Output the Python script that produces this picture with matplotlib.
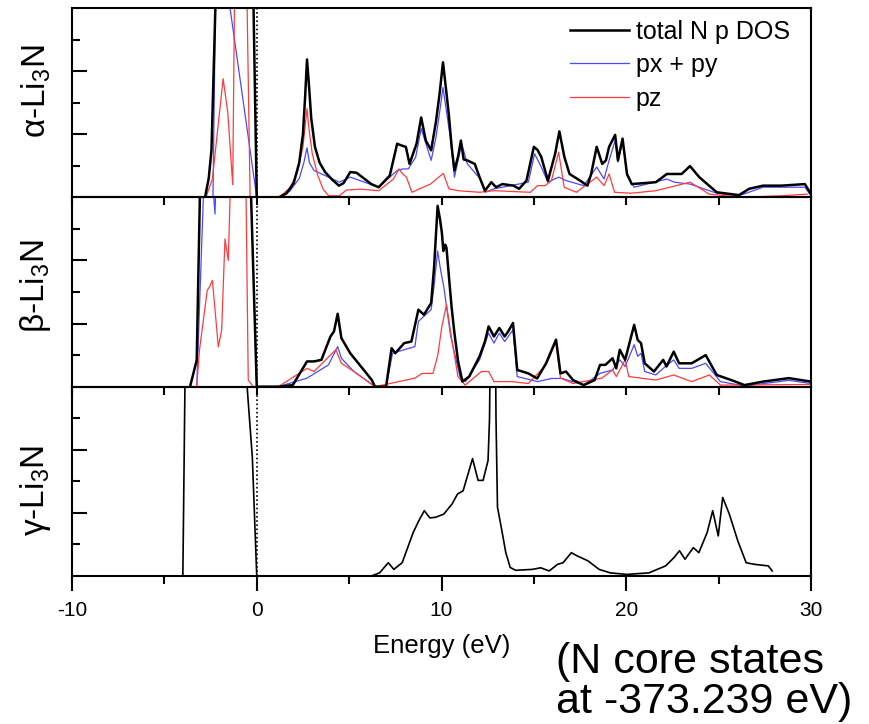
import matplotlib
matplotlib.use("Agg")
import matplotlib.pyplot as plt
from matplotlib.ticker import MultipleLocator, FixedLocator

plt.rcParams['font.family'] = ['Liberation Sans', 'DejaVu Sans']
plt.rcParams['mathtext.fontset'] = 'custom'
plt.rcParams['mathtext.rm'] = 'Liberation Sans'
plt.rcParams['mathtext.it'] = 'Liberation Sans'

# ---------------- data ----------------
panel_labels = ['α-Li$_3$N', 'β-Li$_3$N', 'γ-Li$_3$N']
legend_labels = ['total N p DOS', 'px + py', 'pz']
xticks = [-10, 0, 10, 20, 30]

# alpha-Li3N
a_tot_E = [-2.8, -2.6, -2.45, -2.1, -0.26, 0.0, 1.2, 1.6, 2.0, 2.3, 2.5, 2.62, 2.72,
           2.82, 2.95, 3.15, 3.4, 3.7, 4.1, 4.45, 4.7, 5.06, 5.4, 5.8, 6.2, 6.6,
           7.2, 7.6, 7.8, 8.07, 8.27, 8.65, 8.9, 9.15, 9.44, 9.7, 9.9,
           10.08, 10.25, 10.4, 10.55, 10.7, 10.9, 11.05, 11.2, 11.4, 11.8, 12.06, 12.35,
           12.7, 12.95, 13.3, 13.9, 14.2, 14.6, 15.0, 15.2, 15.4, 15.76, 16.15, 16.38,
           16.65, 16.93, 17.5, 17.9, 18.1, 18.4, 18.7, 18.9, 19.07, 19.4, 19.55, 19.8,
           20.04, 20.3, 21.6, 22.2, 22.6, 23.0, 23.45, 23.95, 24.9, 26.1, 26.65, 27.4,
           28.4, 29.67, 30.0]
a_tot_v = [0.0, 0.6, 1.5, 9.0, 9.0, 0.0, 0.0, 0.12, 0.45, 1.1, 2.0, 3.2, 4.37,
           3.6, 2.5, 1.6, 1.1, 0.8, 0.55, 0.37, 0.45, 0.8, 0.78, 0.6, 0.42, 0.32,
           0.69, 1.7, 1.65, 1.6, 1.06, 1.7, 2.53, 1.8, 1.49, 2.4, 3.3,
           4.28, 3.4, 2.6, 1.6, 0.85, 1.3, 1.8, 1.2, 1.17, 1.06, 0.64, 0.21,
           0.48, 0.32, 0.42, 0.37, 0.27, 0.53, 1.6, 1.5, 1.28, 0.53, 1.38, 2.09,
           1.28, 0.74, 0.53, 0.37, 0.74, 1.6, 1.06, 1.17, 1.6, 1.98, 1.17, 1.86,
           0.74, 0.42, 0.48, 0.74, 0.74, 0.74, 0.99, 0.64, 0.16, 0.07, 0.27, 0.37,
           0.37, 0.42, 0.1]
a_xy_E = [-2.37, -2.17, 0.0, 1.2, 1.8, 2.3, 2.55, 2.72, 2.85, 3.1, 3.7, 4.47, 5.06,
          6.6, 7.6, 7.9, 8.2, 8.6, 8.9, 9.44, 9.7, 9.9, 10.08, 10.3, 10.5, 10.7,
          11.09, 11.4, 12.1, 12.35, 12.85,
          14.7, 15.04, 15.4, 15.76, 16.34, 16.74, 17.7, 18.4, 18.8, 19.07, 19.4, 19.55,
          19.8, 20.04, 20.43, 22.2, 22.6, 23.45, 24.9, 26.1, 27.4, 29.67, 30.0]
a_xy_v = [0.0, 9.0, 0.0, 0.0, 0.2, 0.6, 1.1, 1.57, 1.1, 0.85, 0.69, 0.48, 0.64,
          0.32, 0.85, 0.9, 0.9, 1.27, 2.18, 1.17, 1.9, 2.7, 3.48, 2.6, 1.8, 0.64,
          1.7, 1.06, 0.58, 0.16, 0.27,
          0.48, 1.38, 0.96, 0.48, 0.64, 0.53, 0.37, 0.96, 0.58, 1.17, 1.8, 1.12,
          1.8, 0.69, 0.32, 0.58, 0.48, 0.42, 0.13, 0.05, 0.32, 0.32, 0.05]
a_z_E = [-2.75, -2.4, -1.82, -1.57, -1.3, -1.16, -0.6, -0.36, 1.2, 1.8, 2.2, 2.5,
         2.65, 2.72, 2.82, 3.0, 3.3, 3.6, 3.9, 4.47, 4.85, 5.6, 6.6, 7.4, 7.7, 7.9,
         8.1, 8.4, 9.4, 10.1, 10.4, 10.9, 12.06, 12.85, 14.8, 15.2, 15.6, 15.95,
         16.34, 16.64, 17.3, 17.9, 18.4, 18.8, 19.07, 19.37, 20.25, 21.6, 23.45,
         24.5, 26.3, 28.4, 29.8]
a_z_v = [0.0, 0.58, 3.76, 2.7, 0.4, 9.0, 9.0, 0.0, 0.0, 0.3, 0.8, 1.6,
         2.4, 2.81, 2.2, 1.4, 0.7, 0.25, 0.05, 0.05, 0.23, 0.26, 0.21, 0.58, 0.9, 0.74,
         0.64, 0.16, 0.42, 0.76, 0.27, 0.21, 0.16, 0.21, 0.16, 0.37, 0.37, 0.53,
         1.43, 0.32, 0.16, 0.42, 0.64, 0.37, 0.74, 0.16, 0.13, 0.21, 0.48,
         0.1, 0.0, 0.05, 0.1]

# beta-Li3N
b_tot_E = [-3.61, -3.25, -2.98, -0.46, 0.0, 1.17, 1.95, 2.72, 3.1, 3.5, 3.99, 4.18,
           4.38, 4.58, 5.06, 5.64, 6.23, 6.4, 7.0, 7.3, 7.5, 7.98, 8.37, 8.75, 9.05,
           9.44, 9.6, 9.79, 9.92, 10.02, 10.1, 10.2, 10.27, 10.4, 10.55, 10.7, 10.9,
           11.13, 11.5, 12.06, 12.35,
           12.55, 12.84, 13.13, 13.42, 13.61, 13.87, 14.1, 14.7, 15.18, 15.66, 16.2,
           16.44, 16.74, 17.12, 17.7, 18.29, 18.58, 18.87, 19.26, 19.46, 19.65, 19.94,
           20.43, 20.62, 20.8, 21.0, 21.5, 22.0, 22.18, 22.57, 22.86, 23.54, 24.3,
           24.9, 25.68, 26.4, 27.4, 28.8, 30.0]
b_tot_v = [0.0, 0.84, 9.0, 9.0, 0.0, 0.0, 0.05, 0.8, 0.8, 0.85, 1.59, 1.75,
           2.31, 1.54, 1.06, 0.64, 0.21, 0.0, 0.0, 1.22, 1.06, 1.38, 1.43, 2.44, 2.28,
           2.65, 3.8, 5.73, 5.3, 4.88, 4.3, 4.5, 4.4, 3.5, 2.5, 1.7, 0.8,
           0.16, 0.32, 0.96, 1.43,
           1.91, 1.59, 1.86, 1.59, 1.75, 2.02, 0.53, 0.42, 0.26, 0.74, 1.49,
           0.42, 0.48, 0.21, 0.05, 0.21, 0.69, 0.69, 0.9, 0.58, 1.17, 0.85,
           1.96, 1.48, 1.38, 0.74, 0.48, 0.85, 0.64, 1.11, 0.74, 0.74, 1.0,
           0.37, 0.21, 0.05, 0.16, 0.27, 0.16]
b_xy_E = [-3.25, -2.71, -2.26, -2.08, -0.46, 0.0, 1.17, 2.72, 3.88, 4.38, 4.58, 5.26,
          6.4, 7.0, 7.35, 7.98, 8.56, 8.75, 9.44, 9.6, 9.79, 9.95, 10.12, 10.5, 11.0, 11.3,
          12.06, 12.55, 12.84, 13.13, 13.42, 13.87, 14.1, 15.2, 15.96, 16.54, 17.7,
          18.58, 19.26, 19.65, 19.94, 20.43, 20.62, 20.8, 21.0, 21.6, 22.0, 22.57,
          22.86, 23.54, 24.3, 25.1, 26.4, 28.8, 30.0]
b_xy_v = [0.0, 9.0, 5.47, 9.0, 9.0, 0.0, 0.0, 0.27, 0.69, 1.27, 0.9, 0.48,
          0.0, 0.0, 1.06, 1.17, 1.27, 2.07, 2.44, 3.2, 4.3, 3.7, 3.18, 1.59, 0.32, 0.16,
          0.85, 1.7, 1.38, 1.7, 1.43, 1.8, 0.32, 0.16, 0.26, 0.26, 0.05,
          0.42, 0.53, 0.85, 0.64, 1.33, 0.96, 1.06, 0.48, 0.37, 0.58, 0.85,
          0.58, 0.58, 0.74, 0.16, 0.02, 0.2, 0.1]
b_z_E = [-3.25, -3.1, -2.68, -2.56, -2.4, -2.08, -1.9, -1.72, -1.54, -1.3, -0.64,
         -0.46, -0.19, 1.17, 2.72, 3.1, 4.28, 4.58, 5.26, 6.4, 7.2, 8.56, 8.95, 9.54,
         9.8, 10.02, 10.27, 10.5, 10.89, 11.28, 12.16, 12.55, 12.84, 13.8, 14.7, 15.66,
         16.2, 16.44, 17.12, 18.68, 19.26, 19.46, 19.94, 20.14, 21.6, 22.57, 23.54,
         24.5, 25.1, 30.0]
b_z_v = [0.0, 1.16, 3.05, 3.16, 3.37, 1.26, 1.79, 4.68, 4.0, 9.0, 9.0,
         0.21, 0.0, 0.0, 0.58, 0.48, 1.17, 0.74, 0.48, 0.0, 0.1, 0.27, 0.42, 0.42,
         1.0, 1.91, 2.6, 1.7, 0.32, 0.05, 0.48, 0.48, 0.16, 0.16, 0.1, 0.69,
         1.43, 0.27, 0.1, 0.27, 0.53, 0.32, 0.85, 0.32, 0.21, 0.37, 0.16,
         0.37, 0.05, 0.07]

# gamma-Li3N
g_tot_E = [-4.0, -3.83, -0.9, -0.24, 0.0, 6.2, 6.65, 7.12, 7.42, 7.87, 8.47, 8.77,
           9.07, 9.37, 9.67, 10.12, 10.57, 10.87, 11.17, 11.68, 11.98, 12.25, 12.52,
           12.6, 12.67, 12.9, 12.95, 13.03, 13.27, 13.48, 13.72, 14.02, 14.92, 15.37,
           15.83, 16.28, 16.58, 17.03, 17.33, 17.93, 18.53, 19.13, 20.03, 21.23, 22.13,
           22.58, 22.88, 23.18, 23.63, 23.93, 24.38, 24.68, 24.98, 25.22, 25.58, 26.04,
           26.49, 26.94, 27.69, 27.9]
g_tot_v = [0.0, 9.0, 9.0, 3.77, 0.0, 0.0, 0.1, 0.42, 0.21, 0.42, 1.38, 1.75,
           2.07, 1.84, 1.86, 1.96, 2.28, 2.6, 2.7, 3.72, 3.03, 3.03, 3.66,
           5.0, 9.0, 9.0, 5.0, 2.18, 1.43, 0.74, 0.27, 0.18, 0.21, 0.26,
           0.16, 0.37, 0.42, 0.74, 0.64, 0.48, 0.21, 0.1, 0.05, 0.1, 0.32,
           0.58, 0.8, 0.53, 0.9, 0.74, 1.38, 2.07, 1.27, 2.49, 1.96, 1.11,
           0.42, 0.37, 0.32, 0.16]

# ---------------- figure ----------------
fig = plt.figure(figsize=(8.69, 7.24), dpi=100)
gs = fig.add_gridspec(3, 1, left=72/869, right=811/869, top=1-8/724, bottom=1-576/724, hspace=0)
axes = [fig.add_subplot(gs[i]) for i in range(3)]

blue = '#4a4aff'
red = '#ff3b3b'

ax = axes[0]
h_xy, = ax.plot(a_xy_E, a_xy_v, color=blue, lw=0.9, zorder=2)
h_z, = ax.plot(a_z_E, a_z_v, color=red, lw=0.9, zorder=2)
h_tot, = ax.plot(a_tot_E, a_tot_v, color='black', lw=1.8, zorder=3)

ax = axes[1]
ax.plot(b_xy_E, b_xy_v, color=blue, lw=0.9, zorder=2)
ax.plot(b_z_E, b_z_v, color=red, lw=0.9, zorder=2)
ax.plot(b_tot_E, b_tot_v, color='black', lw=1.8, zorder=3)

ax = axes[2]
ax.plot(g_tot_E, g_tot_v, color='black', lw=1.2, zorder=3)

label_y = [0.56, 0.53, 0.45]
for i, ax in enumerate(axes):
    ax.set_facecolor('none')
    ax.set_xlim(-10, 30)
    ax.set_ylim(0, 6)
    ax.axvline(0, color='black', ls=(0, (1, 1.5)), lw=1.2, zorder=1)
    for s in ax.spines.values():
        s.set_linewidth(1.5)
    ax.yaxis.set_major_locator(FixedLocator([2, 4]))
    ax.yaxis.set_minor_locator(FixedLocator([1, 3, 5]))
    ax.tick_params(axis='y', which='major', direction='in', length=11, width=1.5, left=True, right=False, labelleft=False)
    ax.tick_params(axis='y', which='minor', direction='in', length=6, width=1.5, left=True, right=False)
    ax.xaxis.set_major_locator(FixedLocator(xticks))
    ax.xaxis.set_minor_locator(MultipleLocator(5))
    ax.set_ylabel(panel_labels[i], fontsize=24)
    ax.yaxis.set_label_coords(-0.026, label_y[i])
    if i < 2:
        ax.tick_params(axis='x', which='both', direction='out', length=6, width=1.5, labelbottom=False, top=False)
    else:
        ax.tick_params(axis='x', which='major', direction='out', length=11, width=1.5, labelsize=15, pad=7, top=False)
        ax.tick_params(axis='x', which='minor', direction='out', length=6, width=1.5, top=False)
        ax.set_xticklabels(['-10', '0', '10', '20', '30'])
        ax.set_xlabel('Energy (eV)', fontsize=18.5, labelpad=10)

axes[0].legend([h_tot, h_xy, h_z], legend_labels, loc='upper right', frameon=False, fontsize=18,
               handlelength=2.36, handletextpad=0.28, labelspacing=0.38,
               borderaxespad=0, bbox_to_anchor=(0.985, 0.992))

fig.text(556/869, 1-713/724, '(N core states\nat -373.239 eV)', fontsize=31, ha='left', va='baseline',
         linespacing=1.0)

fig.savefig('out.png', dpi=100, facecolor='white')
